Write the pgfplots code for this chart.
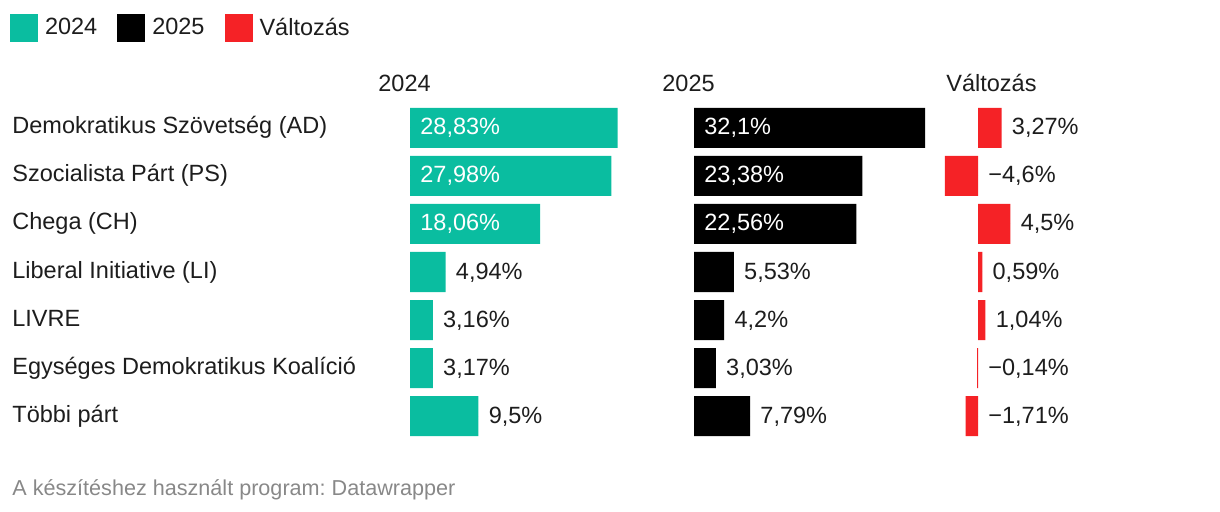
\documentclass[border=0pt]{standalone}
\usepackage{fontspec}
\setmainfont{Liberation Sans}
\usepackage{pgfplots}
\pgfplotsset{compat=1.18}
\frenchspacing

\definecolor{dwteal}{RGB}{10,189,160}
\definecolor{dwred}{RGB}{245,34,38}
\definecolor{dwtext}{RGB}{29,29,29}
\definecolor{dwgray}{RGB}{136,136,136}

\newcommand{\lbl}{\fontsize{11.75bp}{14bp}\selectfont}

\pgfplotsset{
  dwcol/.style={
    x=3.6bp, y=24bp,
    ymin=-6.5, ymax=0.5,
    anchor=south west,
    clip=false,
    axis line style={draw=none},
    major tick length=0pt,
    xtick=\empty, ytick=\empty,
    every axis title shift=0pt,
    title style={anchor=base west, inner sep=0pt, yshift=0pt, text=dwtext, font=\lbl},
  },
  dwbar/.style={xbar, bar width=20bp, bar shift=0pt, draw=none, fill=#1, forget plot},
  dwlab/.style={only marks, mark=*, mark size=0pt, mark options={draw=none, fill=none},
    forget plot, point meta=explicit symbolic, nodes near coords,
    nodes near coords style={anchor=base west, inner sep=0pt, xshift=5bp, yshift=-3.5bp,
      text=#1, font=\lbl}},
}

\begin{document}
\begin{tikzpicture}
\useasboundingbox (0,0) rectangle (610bp,-256bp);

% 2024
\begin{axis}[dwcol, at={(205bp,-220bp)}, xmin=0, xmax=30,
  title={2024}, title style={at={(axis description cs:-0.1481,1.0357)}},
  ytick={0,-1,-2,-3,-4,-5,-6},
  yticklabels={Demokratikus Szövetség (AD), Szocialista Párt (PS), Chega (CH),
    Liberal Initiative (LI), LIVRE, Egységes Demokratikus Koalíció, Többi párt},
  yticklabel style={anchor=base west, inner sep=0pt, xshift=-199bp, yshift=-3bp,
    text=dwtext, font=\lbl},
  legend columns=-1,
  legend image code/.code={\fill[#1, draw=none] (0bp,-7bp) rectangle (14bp,7bp);},
  legend style={at={(axis description cs:-1.85185,1.26786)}, anchor=north west,
    draw=none, fill=none, inner sep=0pt, outer sep=0pt,
    cells={anchor=west}, nodes={inner sep=0pt, text=dwtext, font=\lbl},
    /tikz/every odd column/.append style={column sep=3.5bp},
    /tikz/every even column/.append style={column sep=10bp}},
]
\addplot[dwbar=dwteal] coordinates {
  (28.83,0) (27.98,-1) (18.06,-2) (4.94,-3) (3.16,-4) (3.17,-5) (9.5,-6)};
\addplot[dwlab=white] coordinates {
  (0,0) [28,83\%] (0,-1) [27,98\%] (0,-2) [18,06\%]};
\addplot[dwlab=dwtext] coordinates {
  (4.94,-3) [4,94\%] (3.16,-4) [3,16\%] (3.17,-5) [3,17\%] (9.5,-6) [9,5\%]};
\addlegendimage{fill=dwteal, draw=none}
\addlegendimage{fill=black, draw=none}
\addlegendimage{fill=dwred, draw=none}
\legend{2024, 2025, Változás}
\end{axis}

% 2025
\begin{axis}[dwcol, at={(347bp,-220bp)}, xmin=0, xmax=33,
  title={2025}, title style={at={(axis description cs:-0.1347,1.0357)}}]
\addplot[dwbar=black] coordinates {
  (32.1,0) (23.38,-1) (22.56,-2) (5.53,-3) (4.2,-4) (3.03,-5) (7.79,-6)};
\addplot[dwlab=white] coordinates {
  (0,0) [32,1\%] (0,-1) [23,38\%] (0,-2) [22,56\%]};
\addplot[dwlab=dwtext] coordinates {
  (5.53,-3) [5,53\%] (4.2,-4) [4,2\%] (3.03,-5) [3,03\%] (7.79,-6) [7,79\%]};
\end{axis}

% Változás
\begin{axis}[dwcol, at={(471bp,-220bp)}, xmin=-5, xmax=5,
  title={Változás}, title style={at={(axis description cs:0.0556,1.0357)}}]
\addplot[dwbar=dwred] coordinates {
  (3.27,0) (-4.6,-1) (4.5,-2) (0.59,-3) (1.04,-4) (-0.14,-5) (-1.71,-6)};
\addplot[dwlab=dwtext] coordinates {
  (3.27,0) [3,27\%] (0,-1) [−4,6\%] (4.5,-2) [4,5\%] (0.59,-3) [0,59\%]
  (1.04,-4) [1,04\%] (0,-5) [−0,14\%] (0,-6) [−1,71\%]};
\end{axis}

\node[anchor=base west, inner sep=0pt, text=dwgray, font=\fontsize{10.8bp}{13bp}\selectfont]
  at (6bp,-247.5bp) {A készítéshez használt program: Datawrapper};
\end{tikzpicture}
\end{document}
